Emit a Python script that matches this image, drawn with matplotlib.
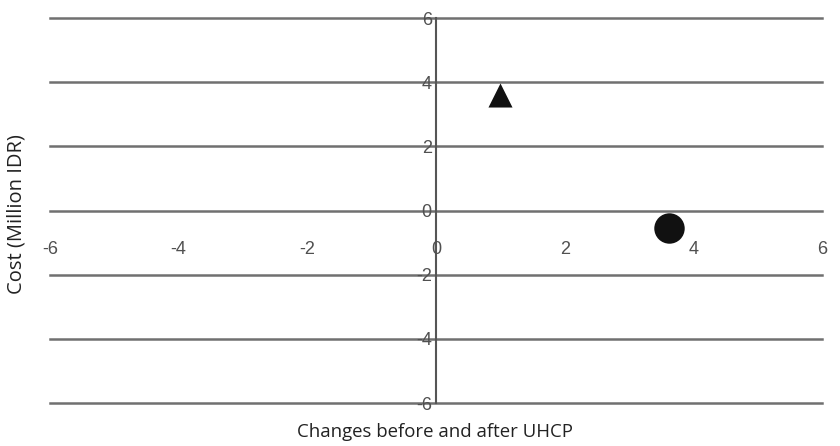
import matplotlib
matplotlib.use('Agg')
import matplotlib.pyplot as plt

# data
tri_x = [1.0]
tri_y = [3.6]
circ_x = [3.62]
circ_y = [-0.55]
x_ticks = [-6, -4, -2, 0, 2, 4, 6]
y_ticks = [-6, -4, -2, 0, 2, 4, 6]

fig = plt.figure(figsize=(8.4, 4.46), dpi=100)
ax = fig.add_axes([50 / 840, 1 - 403 / 446, 772 / 840, 385 / 446])
ax.set_xlim(-6, 6)
ax.set_ylim(-6, 6)

# horizontal grid lines
for y in y_ticks:
    ax.axhline(y, color='#707070', lw=1.8, zorder=1, clip_on=False)
ax.axvline(0, color='#555555', lw=1.5, zorder=1, clip_on=False)

ax.scatter(tri_x, tri_y, marker='^', s=300, color='#111111', zorder=3, linewidths=0)
ax.scatter(circ_x, circ_y, marker='o', s=480, color='#111111', zorder=3, linewidths=0)

for s in ax.spines.values():
    s.set_visible(False)
ax.spines['left'].set_position(('data', 0))
ax.spines['bottom'].set_position(('data', 0))

ax.set_xticks(x_ticks)
ax.set_yticks(y_ticks)
ax.set_xticklabels([str(v) for v in x_ticks])
ax.set_yticklabels([str(v) for v in y_ticks])
ax.tick_params(axis='x', length=0, pad=22, labelsize=13, labelcolor='#505050')
ax.tick_params(axis='y', length=0, pad=3, labelsize=13, labelcolor='#505050')
for lab in ax.get_xticklabels() + ax.get_yticklabels():
    lab.set_family('Liberation Sans')

fig.text(435 / 840, 1 - 432 / 446, 'Changes before and after UHCP', ha='center', va='center',
         fontsize=13.4, family='Open Sans', color='#222222')
fig.text(17 / 840, 1 - 214 / 446, 'Cost (Million IDR)', ha='center', va='center', rotation=90,
         fontsize=14.5, family='Open Sans', color='#222222')

plt.savefig('out.png', dpi=100)
